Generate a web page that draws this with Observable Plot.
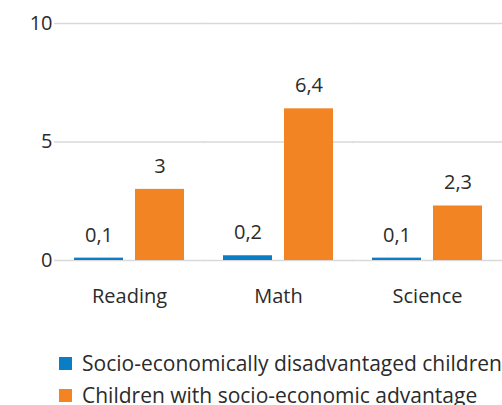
<!DOCTYPE html>
<html>
<head>
<meta charset="utf-8">
<script src="https://cdn.jsdelivr.net/npm/d3@7"></script>
<script src="https://cdn.jsdelivr.net/npm/@observablehq/plot@0.6"></script>
<style>
  body { margin: 0; background: #fff; font-family: "Open Sans", sans-serif; color: #2b2b2b; }
  #legend { margin-top: 17px; padding-left: 59px; font-size: 21px; }
  .row { display: flex; align-items: center; height: 32px; white-space: nowrap; }
  .sw { width: 13px; height: 13px; margin-right: 10px; flex: none; }
</style>
</head>
<body>
<div id="chart"></div>
<div id="legend"></div>
<script>
const subjects = ["Reading", "Math", "Science"];
const seriesNames = ["Socio-economically disadvantaged children", "Children with socio-economic advantage"];
const disadvantaged = [0.1, 0.2, 0.1];
const advantaged = [3, 6.4, 2.3];
const colors = ["#0A7DC4", "#F28423"];
const yTicks = [0, 5, 10];

const data = [];
subjects.forEach((s, i) => {
  data.push({subject: s, series: seriesNames[0], value: disadvantaged[i]});
  data.push({subject: s, series: seriesNames[1], value: advantaged[i]});
});
const fmt = v => String(v).replace(".", ",");

const chart = Plot.plot({
  width: 502,
  height: 330,
  marginTop: 23,
  marginBottom: 70,
  marginLeft: 54,
  marginRight: 1,
  style: {fontFamily: "'Open Sans', sans-serif", fontSize: "20px", color: "#2b2b2b"},
  fx: {domain: subjects, paddingInner: 0.25, paddingOuter: 0.125, label: null},
  x: {domain: seriesNames, paddingInner: 0.19, paddingOuter: 0, axis: null},
  y: {domain: [0, 10], label: null},
  color: {domain: seriesNames, range: colors},
  marks: [
    Plot.ruleY(yTicks, {stroke: "#d9d9d9", strokeWidth: 1.5, insetLeft: -19, insetRight: -19}),
    Plot.axisY(yTicks, {tickSize: 0, tickPadding: 21, fontSize: 20, label: null}),
    Plot.axisFx({anchor: "bottom", tickSize: 0, tickPadding: 28, fontSize: 20, label: null}),
    Plot.barY(data, {fx: "subject", x: "series", y: "value", fill: "series"}),
    Plot.text(data, {fx: "subject", x: "series", y: "value", text: d => fmt(d.value), dy: -23, fontSize: 20, fill: "#2b2b2b"})
  ]
});
document.getElementById("chart").appendChild(chart);

const legend = document.getElementById("legend");
seriesNames.forEach((n, i) => {
  const row = document.createElement("div");
  row.className = "row";
  row.innerHTML = `<div class="sw" style="background:${colors[i]}"></div><span>${n}</span>`;
  legend.appendChild(row);
});
</script>
</body>
</html>
